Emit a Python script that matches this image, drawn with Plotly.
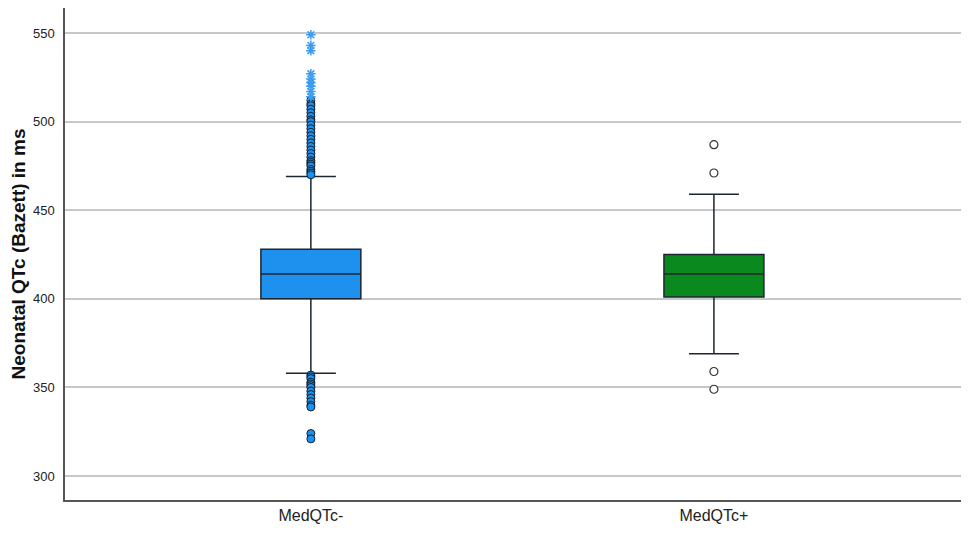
import plotly.graph_objects as go

# categories and box statistics (ms)
groups = ["MedQTc-", "MedQTc+"]
q1 = [400, 401]
median = [414, 414]
q3 = [428, 425]
lower_whisker = [358, 369]
upper_whisker = [469, 459]

# outliers
neg_circles = [512, 510, 509, 507, 505, 503, 501, 500, 498, 496, 494, 492, 490, 488,
               486, 484, 482, 480, 478, 477, 476, 475, 473, 472, 471, 470,
               357, 356, 355, 353, 352, 351, 350, 348, 346, 344, 342, 340, 339,
               324, 321]
neg_stars = [549, 543, 540, 527, 524, 522, 520, 517, 514]
pos_circles = [487, 471, 359, 349]

box_colors = ["#1E90EE", "#0A8A1E"]

fig = go.Figure()
for i in range(2):
    fig.add_trace(go.Box(
        x=[groups[i]], q1=[q1[i]], median=[median[i]], q3=[q3[i]],
        lowerfence=[lower_whisker[i]], upperfence=[upper_whisker[i]],
        fillcolor=box_colors[i], line=dict(color="#1c2530", width=1.5),
        width=0.248, whiskerwidth=0.5, boxpoints=False, showlegend=False))

fig.add_scatter(x=[groups[0]] * len(neg_circles), y=neg_circles, mode="markers",
                marker=dict(symbol="circle", size=8, color="#1E90EE",
                            line=dict(color="#14202e", width=1)), showlegend=False)
fig.add_scatter(x=[groups[0]] * len(neg_stars), y=neg_stars, mode="markers",
                marker=dict(symbol="asterisk-open", size=8, color="#3d9cf0",
                            line=dict(color="#3d9cf0", width=1.5)), showlegend=False)
fig.add_scatter(x=[groups[1]] * len(pos_circles), y=pos_circles, mode="markers",
                marker=dict(symbol="circle", size=8, color="white",
                            line=dict(color="#333333", width=1.2)), showlegend=False)

# page body has an 8px margin, so the figure is 953x517 inside a 969x533 window
fig.update_layout(
    width=953, height=517,
    margin=dict(l=57, r=0, t=0, b=25),
    paper_bgcolor="white", plot_bgcolor="white",
    font=dict(family="Liberation Sans, Arial", color="#222222"),
)
fig.update_xaxes(type="category", range=[-0.61, 1.613], showgrid=False,
                 showline=True, linecolor="#555555", linewidth=1.5, automargin=False,
                 ticks="", tickfont=dict(size=16), ticklabelstandoff=0)
fig.update_yaxes(range=[286.5, 564.1], tickvals=[300, 350, 400, 450, 500, 550],
                 showgrid=True, gridcolor="#c8c8c8", gridwidth=1.5, zeroline=False,
                 showline=True, linecolor="#555555", linewidth=1.5, automargin=False,
                 ticks="", tickfont=dict(size=13), ticklabelstandoff=6,
                 title=dict(text="<b>Neonatal QTc (Bazett) in ms</b>",
                            font=dict(size=19, color="#111111"), standoff=8))

fig.write_html("out.html")
